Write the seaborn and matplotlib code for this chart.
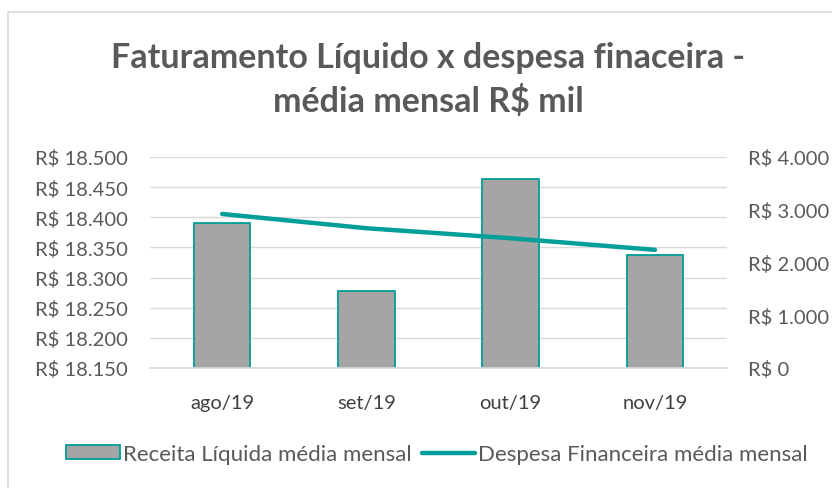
import matplotlib
matplotlib.use("Agg")
import matplotlib.pyplot as plt
import matplotlib.ticker as mticker
from matplotlib.patches import Rectangle, Patch
from matplotlib.lines import Line2D
import pandas as pd
import seaborn as sns

months = ["ago/19", "set/19", "out/19", "nov/19"]
receita = [18391, 18278, 18464, 18338]
despesa = [2920, 2650, 2460, 2240]

df = pd.DataFrame({"mes": months, "receita": receita, "despesa": despesa})

sns.set_theme(style="white")
plt.rcParams["font.family"] = ["Lato", "DejaVu Sans"]

gray_txt = "#595959"
teal = "#009E98"
bar_gray = "#A5A5A5"

def brl(v, pos=None):
    return "R$ " + f"{v:,.0f}".replace(",", ".")

fig = plt.figure(figsize=(8.32, 4.89), dpi=100)
ax = fig.add_axes([150 / 832, 1 - 369 / 489, 577 / 832, 211 / 489])

sns.barplot(data=df, x="mes", y="receita", ax=ax, color=bar_gray,
            width=0.39, edgecolor=teal, linewidth=1.3, saturation=1)
ax.set_ylim(18150, 18500)
ax.yaxis.set_major_locator(mticker.MultipleLocator(50))
ax.yaxis.set_major_formatter(mticker.FuncFormatter(brl))
ax.grid(axis="y", color="#D9D9D9", linewidth=1)
ax.set_axisbelow(True)
ax.set_xlabel("")
ax.set_ylabel("")
for s in ["left", "right", "top"]:
    ax.spines[s].set_visible(False)
ax.spines["bottom"].set_color("#D9D9D9")
ax.tick_params(axis="y", length=0, pad=16, labelsize=14.5, labelcolor=gray_txt)
ax.tick_params(axis="x", length=0, pad=19, labelsize=14.5, labelcolor="#404040")

ax2 = ax.twinx()
sns.lineplot(data=df, x="mes", y="despesa", ax=ax2, color=teal, linewidth=3.2)
ax2.set_ylim(0, 4000)
ax2.yaxis.set_major_locator(mticker.MultipleLocator(1000))
ax2.yaxis.set_major_formatter(mticker.FuncFormatter(brl))
ax2.set_ylabel("")
for s in ax2.spines.values():
    s.set_visible(False)
ax2.tick_params(axis="y", length=0, pad=15, labelsize=14.5, labelcolor=gray_txt)
ax.set_xlim(-0.5, len(months) - 0.5)

fig.text(428 / 832, 1 - 58 / 489, "Faturamento Líquido x despesa finaceira -",
         ha="center", va="center", fontsize=24.5, fontweight="bold", color=gray_txt)
fig.text(428 / 832, 1 - 101 / 489, "média mensal R$ mil",
         ha="center", va="center", fontsize=24.5, fontweight="bold", color=gray_txt)

handles = [Patch(facecolor=bar_gray, edgecolor=teal, linewidth=1.3),
           Line2D([0], [0], color=teal, linewidth=3.2)]
fig.legend(handles, ["Receita Líquida média mensal", "Despesa Financeira média mensal"],
           loc="center", bbox_to_anchor=(437 / 832, 1 - 455 / 489), ncol=2,
           frameon=False, fontsize=16, handlelength=2.4, handleheight=0.55,
           handletextpad=0.15, columnspacing=0.45, labelcolor=gray_txt)

fig.patches.append(Rectangle((8 / 832, -0.1), 1.2, 1 - 13 / 489 + 0.1,
                             transform=fig.transFigure, fill=False,
                             edgecolor="#D9D9D9", linewidth=1.2))

fig.savefig("out.png", dpi=100)
